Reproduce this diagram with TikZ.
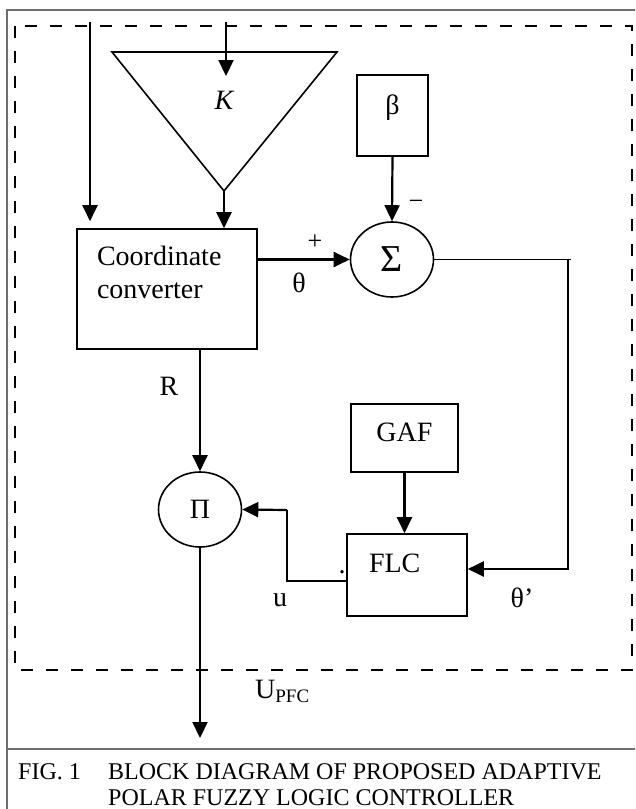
\documentclass[tikz,border=0pt]{standalone}
\usepackage{fontspec}
\setmainfont{Liberation Serif}
\usepackage{xcolor}
\usepackage{tikz}
\usetikzlibrary{shapes.geometric,arrows.meta,calc}
\definecolor{apfcLine}{RGB}{0,0,0}
\definecolor{apfcFrame}{RGB}{110,110,110}
\tikzset{
  blockbox/.style={rectangle, draw=apfcLine, line width=1.6pt, inner sep=0pt, align=center,
    font=\fontsize{28}{33}\selectfont},
  opnode/.style={ellipse, draw=apfcLine, line width=1.6pt, inner sep=0pt, minimum width=83pt,
    minimum height=75pt, font=\fontsize{28}{33}\selectfont},
  gainshape/.style={draw=apfcLine, line width=1.6pt, line join=miter},
  signalarrow/.style={-{Triangle[length=16pt,width=15pt]}, draw=apfcLine, line width=2.2pt},
  signalline/.style={draw=apfcLine, line width=1.5pt},
  siglabel/.style={inner sep=0pt, font=\fontsize{28}{33}\selectfont},
  signlabel/.style={inner sep=0pt, font=\fontsize{26}{30}\selectfont},
  boundarybox/.style={draw=apfcLine, line width=1.7pt, dash pattern=on 12pt off 13pt},
  outerframe/.style={draw=apfcFrame, line width=1.4pt},
  captiontext/.style={anchor=base west, inner sep=0pt, font=\fontsize{24}{28}\selectfont},
}

\begin{document}
\begin{tikzpicture}[x=1pt, y=-1pt]
  \useasboundingbox (0,0) rectangle (635,809);
  \clip (0,0) rectangle (635,809);
  \draw[outerframe] (7,10) rectangle (660,840);
  \draw[outerframe] (7,749) -- (660,749);
  \draw[boundarybox] (15,26) rectangle (632,670);

  \draw[gainshape] (112,52) -- (337,52) -- (224,191) -- cycle;
  \coordinate (gainapex) at (224,191);
  \coordinate (gainin) at (226,76);
  \coordinate (inA) at (90,22);
  \coordinate (inK) at (226,22);
  \node[siglabel, font=\fontsize{28}{33}\selectfont\itshape] (gainK) at (224,100) {K};

  \node[blockbox, minimum width=180pt, minimum height=120pt, text width=140pt, align=left] (conv) at (167,289) {Coordinate\\converter\\~};
  \node[blockbox, minimum width=71pt, minimum height=81pt, text height=19.5pt, text depth=22pt] (beta) at (392.5,115.5) {β};
  \node[opnode, font=\fontsize{38}{40}\selectfont] (sum) at (392,259.5) {Σ};
  \node[blockbox, minimum width=107pt, minimum height=68pt, text height=19pt, text depth=11.5pt] (gaf) at (404.5,438) {GAF};
  \node[blockbox, minimum width=120pt, minimum height=82pt, text height=19pt, text depth=24.5pt, text width=76pt, align=left] (flc) at (407,575) {FLC};
  \node[opnode] (prod) at (200,509.5) {Π};

  \coordinate (fbcorner) at (568,259.5);
  \coordinate (fbend) at (568,569);
  \coordinate (ucorner) at (287,581);
  \coordinate (utop) at (287,510);
  \coordinate (uout) at (200,738);

  \draw[signalarrow, shorten >=7pt] (inA) -- (inA |- conv.north);
  \draw[signalarrow] (inK) -- (gainin);
  \draw[signalarrow] (gainapex) -- (conv.north -| gainapex);
  \draw[signalarrow] (beta.south) -- (sum.north);
  \draw[signalarrow] (conv.east |- sum.west) -- (sum.west);
  \draw[signalline] (sum.east) -- ($(fbcorner)+(3,0)$);
  \draw[signalarrow] (fbcorner) -- (fbend) -- (flc.east |- fbend);
  \draw[signalarrow] (gaf.south) -- (flc.north -| gaf.south);
  \draw[signalarrow] (prod.north |- conv.south) -- (prod.north);
  \draw[signalline] (flc.west |- ucorner) -- (ucorner) -- (utop);
  \draw[signalarrow] (utop) -- (prod.east);
  \draw[signalarrow] (prod.south) -- (uout);

  \node[signlabel] (plus) at (315,242) {+};
  \node[signlabel] (minus) at (416,205) {−};
  \node[siglabel] (theta) at (299,283) {θ};
  \node[siglabel] (rlabel) at (169,386) {R};
  \node[siglabel] (ulabel) at (280,600) {u};
  \node[siglabel] (thetap) at (522,598) {θ’};
  \node[siglabel, anchor=base] (udot) at (342,573) {.};
  \node[siglabel, anchor=base west] (upfc) at (255,698) {U\raisebox{-4pt}{\fontsize{19}{22}\selectfont PFC}};

  \node[captiontext] (capfig) at (18,779) {FIG. 1};
  \node[captiontext] (capline1) at (108,779) {BLOCK DIAGRAM OF PROPOSED ADAPTIVE};
  \node[captiontext] (capline2) at (108,805) {POLAR FUZZY LOGIC CONTROLLER};
\end{tikzpicture}
\end{document}
